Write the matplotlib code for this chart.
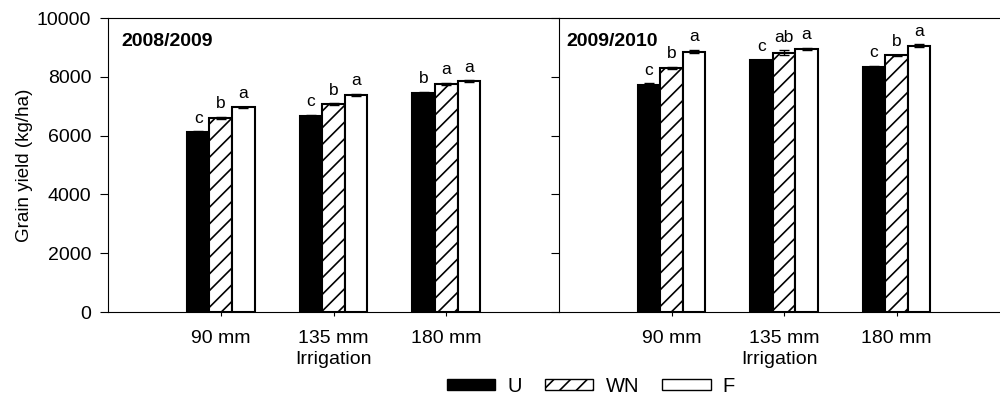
import numpy as np
import matplotlib as mpl
mpl.use('Agg')
import matplotlib.pyplot as plt
from matplotlib.patches import Patch
plt.rc('font', family='Liberation Sans')
mpl.rcParams.update({'font.size': 14, 'hatch.linewidth': 1.2})

irrig = ['90 mm', '135 mm', '180 mm']
treat = ['U', 'WN', 'F']
seasons = ['2008/2009', '2009/2010']

# grain yield (kg/ha), rows = irrigation, cols = U, WN, F
y0809 = [[6110, 6610, 6970], [6680, 7070, 7390], [7450, 7760, 7860]]
y0910 = [[7740, 8310, 8860], [8560, 8830, 8960], [8350, 8730, 9060]]
e0809 = [[40, 30, 20], [30, 40, 40], [50, 40, 30]]
e0910 = [[40, 40, 60], [30, 80, 30], [30, 30, 50]]
l0809 = [['c', 'b', 'a'], ['c', 'b', 'a'], ['b', 'a', 'a']]
l0910 = [['c', 'b', 'a'], ['c', 'ab', 'a'], ['c', 'b', 'a']]

fig = plt.figure(figsize=(10, 3.94), dpi=100)
ax1 = fig.add_axes([0.108, 0.208, 0.451, 0.746])
ax2 = fig.add_axes([0.559, 0.208, 0.441, 0.746])

faces = ['black', 'white', 'white']
hatches = [None, '//', None]
w = 0.2
x = np.arange(1, 4)

for ax, ys, es, ls, name, xmax, tx in [(ax1, y0809, e0809, l0809, seasons[0], 4.0, 0.029),
                                       (ax2, y0910, e0910, l0910, seasons[1], 3.92, 0.016)]:
    ys = np.array(ys); es = np.array(es)
    for j in range(3):
        xs = x + (j - 1) * w
        ax.bar(xs, ys[:, j], w, color=faces[j], edgecolor='black', hatch=hatches[j],
               linewidth=1.5, zorder=2)
        ax.errorbar(xs, ys[:, j], yerr=es[:, j], fmt='none', ecolor='black',
                    elinewidth=1, capsize=3.5, zorder=3)
        for i in range(3):
            ax.annotate(ls[i][j], (xs[i], ys[i, j] + es[i, j]), xytext=(0, 4),
                        textcoords='offset points', ha='center', va='bottom', fontsize=12.5)
    ax.set_xlim(0, xmax)
    ax.set_ylim(0, 10000)
    ax.set_xticks(x)
    ax.set_xticklabels(irrig)
    ax.set_xlabel('Irrigation', labelpad=3)
    ax.set_yticks(range(0, 10001, 2000))
    ax.tick_params(axis='x', length=3, pad=10)
    ax.tick_params(axis='y', length=6, pad=6)
    ax.spines['right'].set_visible(False)
    ax.text(tx, 0.905, name, transform=ax.transAxes, fontsize=14, fontweight='bold',
            va='baseline', ha='left')

ax1.set_ylabel('Grain yield (kg/ha)', fontsize=13.5, labelpad=3)
ax2.set_yticklabels([])

handles = [Patch(facecolor='black', edgecolor='black', label='U'),
           Patch(facecolor='white', edgecolor='black', hatch='//', label='WN'),
           Patch(facecolor='white', edgecolor='black', label='F')]
fig.legend(handles=handles, loc='center', bbox_to_anchor=(0.591, 0.02), ncol=3,
           frameon=False, handlelength=2.4, handleheight=0.47, columnspacing=1.15,
           handletextpad=0.6, fontsize=14.5, borderpad=0, borderaxespad=0)

fig.savefig('out.png', dpi=100)
